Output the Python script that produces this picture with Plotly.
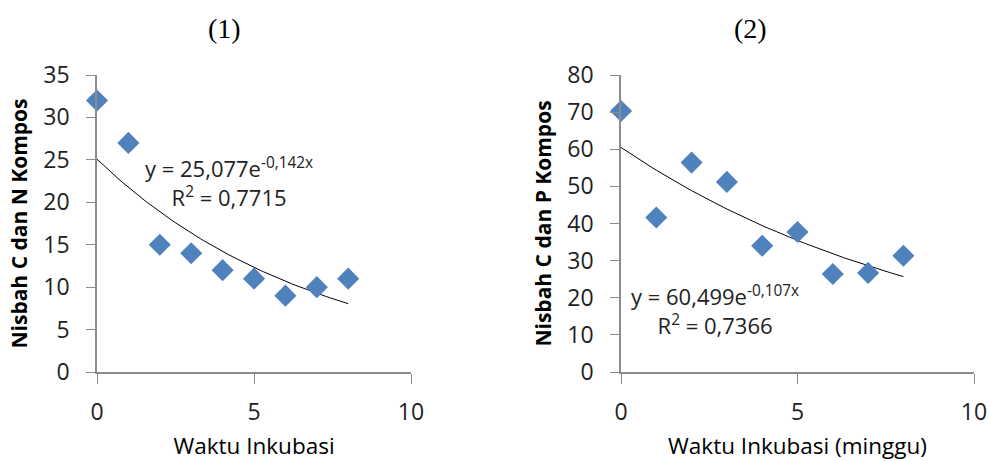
import numpy as np
import plotly.graph_objects as go

# Data
weeks = [0, 1, 2, 3, 4, 5, 6, 7, 8]
cn_ratio = [32, 27, 15, 14, 12, 11, 9, 10, 11]
cp_ratio = [70.3, 41.6, 56.4, 51.2, 34.0, 37.7, 26.4, 26.7, 31.3]
cn_fit = (25.077, -0.142)
cp_fit = (60.499, -0.107)
panel_titles = ["(1)", "(2)"]
x_ticks = [0, 5, 10]
y1_ticks = [0, 5, 10, 15, 20, 25, 30, 35]
y2_ticks = [0, 10, 20, 30, 40, 50, 60, 70, 80]

fig = go.Figure()

def trend(coef):
    xs = np.linspace(0, 8, 81)
    return xs, coef[0] * np.exp(coef[1] * xs)

blue = "#4F81BD"
for i, (ys, coef) in enumerate([(cn_ratio, cn_fit), (cp_ratio, cp_fit)]):
    xa = "x" if i == 0 else "x2"
    ya = "y" if i == 0 else "y2"
    tx, ty = trend(coef)
    fig.add_trace(go.Scatter(x=tx, y=ty, mode="lines", line=dict(color="black", width=1),
                             xaxis=xa, yaxis=ya, showlegend=False, hoverinfo="skip"))
    fig.add_trace(go.Scatter(x=weeks, y=ys, mode="markers",
                             marker=dict(symbol="diamond", size=17, color=blue,
                                         line=dict(width=0)),
                             xaxis=xa, yaxis=ya, showlegend=False, cliponaxis=False))

tickfont = dict(family="Open Sans, sans-serif", size=23, color="#222")
common_x = dict(range=[0, 10], tickvals=x_ticks, showline=True, linecolor="#8c8c8c",
                linewidth=1.5, ticks="outside", ticklen=10, tickcolor="#8c8c8c",
                showgrid=False, zeroline=False, tickfont=tickfont, ticklabelstandoff=9,
                automargin=False)
common_y = dict(showline=True, linecolor="#8c8c8c", linewidth=1.5, ticks="outside",
                ticklen=9, tickcolor="#8c8c8c", showgrid=False, zeroline=False,
                tickfont=tickfont, ticklabelstandoff=12, automargin=False)

ytitlefont = dict(family="Open Sans, sans-serif", size=21, color="black", weight="bold")
xtitlefont = dict(family="Open Sans, sans-serif", size=22.5, color="black")

fig.update_layout(
    width=990, height=461,
    margin=dict(l=0, r=0, t=0, b=0),
    paper_bgcolor="white", plot_bgcolor="white",
    xaxis=dict(domain=[97/990, 411/990], anchor="y",
               title=dict(text="Waktu Inkubasi", font=xtitlefont, standoff=14), **common_x),
    yaxis=dict(domain=[(461-372)/461, (461-75)/461], anchor="x", range=[0, 35],
               tickvals=y1_ticks,
               title=dict(text="Nisbah C dan N Kompos", font=ytitlefont, standoff=10), **common_y),
    xaxis2=dict(domain=[621/990, 974/990], anchor="y2",
                title=dict(text="Waktu Inkubasi (minggu)", font=xtitlefont, standoff=14), **common_x),
    yaxis2=dict(domain=[(461-372)/461, (461-75)/461], anchor="x2", range=[0, 80],
                tickvals=y2_ticks,
                title=dict(text="Nisbah C dan P Kompos", font=ytitlefont, standoff=10), **common_y),
)

annfont = dict(family="Open Sans, sans-serif", size=22, color="#222")
for px, title in zip([224, 750], panel_titles):
    fig.add_annotation(xref="paper", yref="paper", x=px/990, y=(461-29)/461,
                       xanchor="center", yanchor="middle",
                       text=title, showarrow=False,
                       font=dict(family="Liberation Serif, serif", size=28, color="black"))

fig.add_annotation(xref="x", yref="y", x=4.2, y=22.4,
                   text="y = 25,077e<sup>-0,142x</sup><br>R<sup>2</sup> = 0,7715",
                   showarrow=False, align="center", font=annfont)
fig.add_annotation(xref="x2", yref="y2", x=2.65, y=16.6,
                   text="y = 60,499e<sup>-0,107x</sup><br>R<sup>2</sup> = 0,7366",
                   showarrow=False, align="center", font=annfont)

fig.write_html("out.html", config={"displayModeBar": False},
               post_script="document.body.style.margin='0';document.body.style.overflow='hidden';")
